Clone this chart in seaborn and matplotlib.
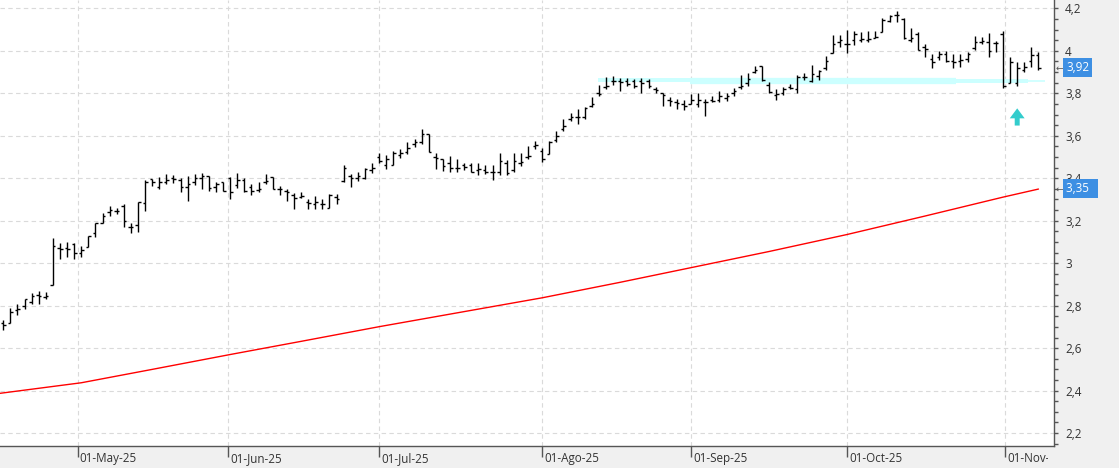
import numpy as np
import pandas as pd
import seaborn as sns
import matplotlib.pyplot as plt
import matplotlib.transforms as mtransforms
from matplotlib.patches import FancyArrow
from matplotlib.ticker import MultipleLocator, FuncFormatter

# ---------- Data ----------
# trading days shown (BME calendar, Easter + 1 May closed)
holidays = ['2025-04-18', '2025-04-21', '2025-05-01']
dates = pd.bdate_range('2025-04-14', '2025-11-07')
dates = dates[~dates.isin(pd.to_datetime(holidays))]

opens = [
    2.72, 2.72, 2.78, 2.80, 2.817, 2.85, 2.84, 2.896, 3.07, 3.07,
    3.09, 3.05, 3.074, 3.14, 3.19, 3.24, 3.245, 3.27, 3.17, 3.18,
    3.285, 3.395, 3.36, 3.38, 3.40, 3.394, 3.36, 3.38, 3.40, 3.41,
    3.36, 3.384, 3.40, 3.37, 3.394, 3.36, 3.345, 3.38, 3.405, 3.35,
    3.34, 3.32, 3.31, 3.29, 3.28, 3.28, 3.26, 3.31, 3.385, 3.41,
    3.40, 3.40, 3.44, 3.50, 3.46, 3.462, 3.51, 3.523, 3.56, 3.57,
    3.61, 3.50, 3.49, 3.47, 3.45, 3.46, 3.46, 3.44, 3.44, 3.43,
    3.43, 3.47, 3.44, 3.47, 3.50, 3.55, 3.53, 3.514, 3.58, 3.63,
    3.68, 3.69, 3.69, 3.74, 3.80, 3.83, 3.86, 3.86, 3.86, 3.86,
    3.86, 3.86, 3.82, 3.80, 3.77, 3.76, 3.75, 3.75, 3.75, 3.76,
    3.77, 3.77, 3.78, 3.80, 3.83, 3.85, 3.90, 3.93, 3.84, 3.79,
    3.80, 3.83, 3.82, 3.875, 3.86, 3.88, 3.92, 3.99, 4.04, 4.03,
    4.05, 4.05, 4.05, 4.06, 4.09, 4.14, 4.17, 4.15, 4.052, 4.08,
    4.02, 3.96, 3.97, 3.985, 3.95, 3.95, 3.96, 4.011, 4.04, 4.04,
    4.036, 4.08, 3.85, 3.85, 3.91, 3.95, 3.98,
]
highs = [
    2.732, 2.79, 2.806, 2.833, 2.858, 2.87, 2.865, 3.118, 3.094, 3.10,
    3.094, 3.08, 3.13, 3.19, 3.236, 3.27, 3.26, 3.28, 3.19, 3.29,
    3.39, 3.397, 3.405, 3.42, 3.416, 3.40, 3.41, 3.42, 3.425, 3.41,
    3.384, 3.384, 3.405, 3.425, 3.40, 3.373, 3.384, 3.42, 3.405, 3.362,
    3.347, 3.33, 3.337, 3.30, 3.314, 3.30, 3.328, 3.328, 3.464, 3.42,
    3.428, 3.446, 3.474, 3.52, 3.508, 3.528, 3.538, 3.57, 3.585, 3.63,
    3.61, 3.52, 3.49, 3.506, 3.49, 3.47, 3.47, 3.47, 3.46, 3.46,
    3.52, 3.487, 3.52, 3.52, 3.553, 3.577, 3.54, 3.577, 3.623, 3.678,
    3.706, 3.728, 3.733, 3.784, 3.838, 3.878, 3.88, 3.873, 3.873, 3.866,
    3.873, 3.866, 3.83, 3.803, 3.784, 3.775, 3.77, 3.795, 3.80, 3.775,
    3.787, 3.81, 3.803, 3.827, 3.884, 3.897, 3.93, 3.93, 3.852, 3.82,
    3.828, 3.844, 3.886, 3.895, 3.933, 3.91, 3.977, 4.073, 4.073, 4.10,
    4.094, 4.09, 4.094, 4.094, 4.156, 4.17, 4.188, 4.156, 4.105, 4.09,
    4.03, 3.984, 4.0, 4.0, 3.984, 3.984, 3.992, 4.068, 4.063, 4.083,
    4.047, 4.091, 3.973, 3.948, 3.948, 4.02, 3.992,
]
lows = [
    2.685, 2.72, 2.756, 2.786, 2.81, 2.81, 2.83, 2.896, 3.022, 3.03,
    3.02, 3.027, 3.074, 3.124, 3.19, 3.22, 3.23, 3.17, 3.14, 3.145,
    3.247, 3.365, 3.347, 3.373, 3.378, 3.337, 3.295, 3.37, 3.35, 3.342,
    3.337, 3.339, 3.30, 3.353, 3.334, 3.322, 3.337, 3.373, 3.347, 3.32,
    3.295, 3.256, 3.305, 3.256, 3.256, 3.256, 3.26, 3.28, 3.38, 3.358,
    3.385, 3.397, 3.425, 3.474, 3.443, 3.462, 3.497, 3.512, 3.548, 3.563,
    3.523, 3.443, 3.435, 3.43, 3.43, 3.44, 3.428, 3.416, 3.42, 3.394,
    3.416, 3.416, 3.43, 3.456, 3.49, 3.537, 3.475, 3.514, 3.57, 3.62,
    3.67, 3.655, 3.68, 3.733, 3.788, 3.822, 3.838, 3.81, 3.834, 3.827,
    3.80, 3.827, 3.803, 3.738, 3.74, 3.728, 3.722, 3.748, 3.733, 3.694,
    3.76, 3.76, 3.764, 3.788, 3.822, 3.834, 3.894, 3.86, 3.80, 3.77,
    3.79, 3.82, 3.80, 3.864, 3.852, 3.864, 3.91, 3.99, 4.016, 3.99,
    4.027, 4.04, 4.04, 4.058, 4.09, 4.136, 4.134, 4.055, 4.043, 4.005,
    3.973, 3.92, 3.957, 3.948, 3.917, 3.926, 3.945, 4.005, 4.031, 3.973,
    3.995, 3.827, 3.847, 3.835, 3.90, 3.926, 3.91,
]
closes = [
    2.71, 2.77, 2.785, 2.83, 2.845, 2.845, 2.845, 3.08, 3.066, 3.066,
    3.05, 3.06, 3.13, 3.19, 3.22, 3.25, 3.247, 3.197, 3.17, 3.29,
    3.38, 3.38, 3.38, 3.394, 3.397, 3.36, 3.373, 3.40, 3.41, 3.353,
    3.373, 3.34, 3.334, 3.394, 3.342, 3.342, 3.35, 3.389, 3.35, 3.347,
    3.334, 3.306, 3.317, 3.285, 3.29, 3.28, 3.32, 3.304, 3.45, 3.40,
    3.41, 3.443, 3.45, 3.48, 3.49, 3.52, 3.52, 3.54, 3.57, 3.61,
    3.523, 3.497, 3.458, 3.45, 3.45, 3.455, 3.43, 3.445, 3.43, 3.43,
    3.48, 3.425, 3.48, 3.475, 3.506, 3.555, 3.49, 3.57, 3.597, 3.644,
    3.69, 3.69, 3.73, 3.75, 3.795, 3.835, 3.86, 3.855, 3.845, 3.835,
    3.85, 3.835, 3.815, 3.79, 3.765, 3.755, 3.74, 3.77, 3.77, 3.76,
    3.765, 3.785, 3.785, 3.81, 3.835, 3.865, 3.91, 3.864, 3.805, 3.797,
    3.82, 3.826, 3.875, 3.875, 3.89, 3.905, 3.95, 4.03, 4.05, 4.03,
    4.08, 4.055, 4.055, 4.065, 4.145, 4.165, 4.17, 4.06, 4.06, 4.005,
    4.008, 3.948, 3.984, 3.953, 3.948, 3.955, 3.984, 4.04, 4.047, 4.0,
    4.036, 3.835, 3.945, 3.92, 3.925, 3.98, 3.92,
]

# moving average (red), sampled along the bars
ma_bar = [-1, 11, 21, 32, 42, 53, 65, 76, 87, 97, 108, 119, 130, 141, 146]
ma_val = [2.385, 2.437, 2.50, 2.570, 2.632, 2.701, 2.772, 2.837, 2.910,
          2.979, 3.055, 3.135, 3.222, 3.311, 3.349]

month_starts = ['2025-05-01', '2025-06-01', '2025-07-01', '2025-08-01',
                '2025-09-01', '2025-10-01', '2025-11-01']
month_labels = ['01-May-25', '01-Jun-25', '01-Jul-25', '01-Ago-25',
                '01-Sep-25', '01-Oct-25', '01-Nov-25']

# support zone (cyan) pieces: from bar, to bar, level, thickness (px)
zone_from = [83.9, 96.8, 134.3, 144.5]
zone_to = [96.8, 134.3, 144.5, 146.9]
zone_level = [3.861, 3.859, 3.858, 3.859]
zone_px = [4.0, 6.3, 4.0, 1.7]

signal_bar = 143
signal_low, signal_high = 3.648, 3.729

last_close = 3.92
last_ma = 3.35

# ---------- Figure ----------
W, H = 1119, 468
PX = 72 / 100  # points per pixel at dpi 100

sns.set_theme(style='white')
plt.rcParams['font.family'] = ['Open Sans', 'DejaVu Sans']

fig = plt.figure(figsize=(W / 100, H / 100), dpi=100, facecolor='#f0f0f0')
ax = fig.add_axes([0, 22 / H, 1054 / W, 446 / H])
ax.set_facecolor('white')

idx = np.arange(len(dates))
df = pd.DataFrame({'bar': idx, 'open': opens, 'high': highs, 'low': lows, 'close': closes})

# zone under the bars
for a, b, lvl, px in zip(zone_from, zone_to, zone_level, zone_px):
    ax.hlines(lvl, a, b, color='#ccffff', lw=px * PX, zorder=1)

# OHLC bars
ax.vlines(df['bar'], df['low'], df['high'], color='black', lw=1.0, zorder=3)
ax.hlines(df['open'], df['bar'] - 0.36, df['bar'], color='black', lw=1.0, zorder=3)
ax.hlines(df['close'], df['bar'], df['bar'] + 0.36, color='black', lw=1.0, zorder=3)

# moving average
sns.lineplot(x=ma_bar, y=ma_val, color='red', lw=1.0, ax=ax, zorder=2)

# signal arrow
ax.add_patch(FancyArrow(signal_bar, signal_low, 0, signal_high - signal_low,
                        width=0.7, head_width=2.1, head_length=0.047,
                        length_includes_head=True, color='#33cccc', lw=0, zorder=4))

ax.set_xlim(-0.465, 148.19)
ax.set_ylim(2.1393, 4.2391)

# month ticks sit at the calendar date between trading days
month_pos = np.interp(pd.to_datetime(month_starts).map(pd.Timestamp.toordinal),
                      dates.map(pd.Timestamp.toordinal), idx)
ax.set_xticks(month_pos)
ax.set_xticklabels([])
ax.tick_params(axis='x', direction='out', length=11 * PX, width=1, color='#555555', bottom=True)

ax.yaxis.tick_right()
ax.yaxis.set_major_locator(MultipleLocator(0.2))
ax.yaxis.set_minor_locator(MultipleLocator(0.05))
ax.yaxis.set_major_formatter(FuncFormatter(
    lambda v, _: f'{v:.1f}'.rstrip('0').rstrip('.').replace('.', ',')))
ax.tick_params(axis='y', which='both', direction='out', length=4 * PX, width=1,
               color='#555555', labelsize=8.4, labelcolor='#333333', pad=7 * PX, right=True)
ax.set_xlabel('')
ax.set_ylabel('')

ax.grid(True, which='major', color='#dadada', linestyle=(0, (4, 3)), linewidth=0.8)
for side in ['top', 'left']:
    ax.spines[side].set_visible(False)
for side in ['right', 'bottom']:
    ax.spines[side].set_color('#555555')
    ax.spines[side].set_linewidth(1)

# value boxes on the price scale (the MA box is a bit wider in the original)
for val, extra in [(last_close, ''), (last_ma, '  ')]:
    lab = f'{val:.2f}'.replace('.', ',') + extra
    ax.text(1 + 12 / 1054, val, lab, transform=ax.get_yaxis_transform(),
            ha='left', va='center', color='white', fontsize=8.4, clip_on=False, zorder=6,
            bbox=dict(boxstyle='square,pad=0.25', fc='#3d8fe3', ec='none'))
    ax.text(1 + 2 / 1054, val, '←', transform=ax.get_yaxis_transform(),
            ha='left', va='center', color='#555555', fontsize=6.5, clip_on=False,
            family=['DejaVu Sans'])

# date labels in the bottom strip, clipped just before the price scale
strip = fig.add_axes([0, 2 / H, 1054 / W, 20 / H])
strip.set_xlim(ax.get_xlim())
strip.set_ylim(0, 1)
strip.axis('off')
clip_strip = fig.add_axes([0, 2 / H, 1048 / W, 20 / H])
clip_strip.axis('off')
trans = mtransforms.blended_transform_factory(strip.transData, strip.transAxes)
for pos, lab in zip(month_pos, month_labels):
    t = strip.text(pos + 0.3, 0.37, lab, transform=trans, ha='left', va='center',
                   fontsize=8.4, color='#333333', clip_on=True)
    t.set_clip_box(clip_strip.bbox)

fig.savefig('out.png', dpi=100, facecolor=fig.get_facecolor())
